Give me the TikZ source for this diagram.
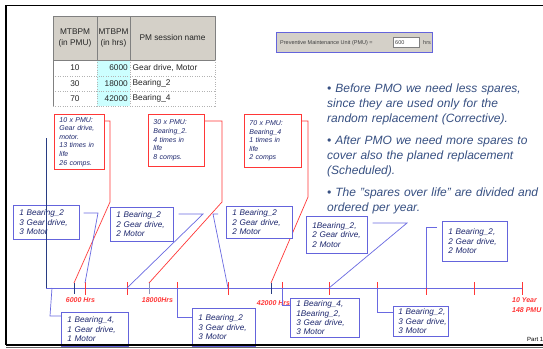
\documentclass[tikz,border=0pt]{standalone}
\usepackage{fontspec}
\setmainfont{Liberation Sans}
\usetikzlibrary{calc}
\definecolor{navy}{RGB}{30,40,110}
\definecolor{boxblue}{RGB}{100,100,220}
\definecolor{lineblue}{RGB}{105,105,225}
\definecolor{redc}{RGB}{255,55,55}
\definecolor{darknavy}{RGB}{40,60,130}
\definecolor{slate}{RGB}{55,80,130}
\definecolor{hdrgray}{RGB}{212,208,200}
\definecolor{cyanc}{RGB}{204,255,255}
\definecolor{tgray}{RGB}{128,128,128}
\begin{document}
\begin{tikzpicture}[x=1pt,y=-1pt,
  bbox/.style={draw=boxblue, fill=white, line width=0.7pt, inner xsep=6pt, inner ysep=0pt, anchor=north west, font=\fontsize{8.2}{9.4}\selectfont\itshape, text=navy, align=left, execute at begin node={\hyphenpenalty=10000\exhyphenpenalty=10000\hbadness=10000\hfuzz=20pt}},
  rbox/.style={draw=redc, fill=white, line width=0.8pt, inner xsep=5pt, inner ysep=0pt, anchor=north west, font=\fontsize{7}{8.6}\selectfont\itshape, text=navy, align=left, execute at begin node={\hyphenpenalty=10000\exhyphenpenalty=10000}},
  redline/.style={draw=redc, line width=0.7pt},
  blueline/.style={draw=lineblue, line width=0.7pt},
  redtick/.style={draw=redc, line width=0.9pt},
  darktick/.style={draw=darknavy, line width=0.9pt},
  hrs/.style={font=\fontsize{7}{10}\selectfont\bfseries\itshape, text=redc, inner sep=0pt},
  bullettext/.style={font=\fontsize{12}{15}\selectfont\itshape, text=slate, anchor=base west, inner sep=0pt, text width=216pt, align=left},
  tbl/.style={font=\fontsize{8.3}{11.5}\selectfont, text=black!85, inner sep=0pt, align=center},
  pmutext/.style={font=\fontsize{5.5}{6}\selectfont, text=black!75, inner sep=0pt, anchor=base west},
]
\useasboundingbox (0,0) rectangle (543,348);
\fill[white] (0,0) rectangle (543,348);

% ---------- table ----------
\fill[hdrgray] (53,16) rectangle (215,60);
\fill[cyanc] (97,60) rectangle (130,106);
\draw[tgray!60, dotted] (53,76) -- (215,76) (53,91) -- (215,91) (53,106) -- (215,106)
  (97,60) -- (97,106) (130,60) -- (130,106) (215,60) -- (215,106);
\draw[tgray, line width=0.5pt] (53,106) -- (53,16) -- (215,16) -- (215,60)
  (53,60) -- (215,60) (97,16) -- (97,60) (130,16) -- (130,60);
\node[tbl] (h1) at (75,38) {MTBPM\\(in PMU)};
\node[tbl] (h2) at (113.5,38) {MTBPM\\(in hrs)};
\node[tbl] (h3) at (172.5,38) {PM session name};
\node[tbl] (r1a) at (75,68) {10};
\node[tbl] (r2a) at (75,83.5) {30};
\node[tbl] (r3a) at (75,98.5) {70};
\node[tbl, anchor=east] (r1b) at (128,68) {6000};
\node[tbl, anchor=east] (r2b) at (128,83.5) {18000};
\node[tbl, anchor=east] (r3b) at (128,98.5) {42000};
\node[tbl, anchor=west] (r1c) at (132.5,68) {Gear drive, Motor};
\node[tbl, anchor=west] (r2c) at (132.5,83.5) {Bearing\_2};
\node[tbl, anchor=west] (r3c) at (132.5,98.5) {Bearing\_4};

% ---------- PMU box ----------
\node[draw=boxblue, fill=hdrgray, line width=0.7pt, anchor=north west, minimum width=156pt, minimum height=20pt, inner sep=0pt] (pmu) at (276,32) {};
\node[draw=tgray, fill=white, line width=0.4pt, anchor=north west, minimum width=26pt, minimum height=10pt, inner sep=0pt] (pmuin) at (393,37) {};
\node[pmutext] (pmul) at (280,44) {Preventive Maintenance Unit (PMU) =};
\node[pmutext] (pmuv) at (395,44) {600};
\node[pmutext] (pmuh) at (423,44) {hrs};

% ---------- bullets ----------
\node[bullettext] (p1) at (327,92.5) {• Before PMO we need less spares,\\since they are used only for the\\random replacement (Corrective).};
\node[bullettext] (p2) at (327,144.5) {• After PMO we need more spares to\\cover also the planed replacement\\(Scheduled).};
\node[bullettext] (p3) at (327,196.5) {• The "spares over life" are divided and\\ordered per year.};

% ---------- timeline ----------
\coordinate (tl0) at (46,288);
\coordinate (tlend) at (522,288);
\coordinate (vtop) at (46,138);
\coordinate (tL1) at (52,288);
\foreach \x in {74,85,127,149,177,228,271,282,329,377,426,474,522}{\coordinate (t\x) at (\x,288);}
\draw[lineblue, line width=0.8pt] (tl0) -- (tlend);
\foreach \x in {85,127,177,228,282,329,377,426,474,522}{\draw[redtick] ([yshift=6pt]t\x) -- ([yshift=-7pt]t\x);}
\draw[darktick] ([yshift=5pt]t74) -- ([yshift=-6pt]t74);
\draw[darktick] ([yshift=5pt]t271) -- ([yshift=-6pt]t271);
\draw[draw=darknavy!55, line width=0.9pt] ([yshift=6pt]t149) -- ([yshift=-6pt]t149);

\node[hrs] (l6) at (80.5,300) {6000 Hrs};
\node[hrs] (l18) at (157.5,300) {18000Hrs};
\node[hrs] (l42) at (273.5,303) {42000 Hrs};
\node[hrs, anchor=north west, align=left] (l10) at (512,297) {10 Year\\148 PMU};

% ---------- red boxes ----------
\node[rbox, text width=40pt, minimum height=55pt] (ra) at (54,114) {10 x PMU:\\Gear drive,\\motor.\\13 times in\\life\\26 comps.};
\node[rbox, text width=46pt, minimum height=52pt] (rb) at (148,114) {30 x PMU:\\Bearing\_2.\\4 times in\\life\\8 comps.};
\node[rbox, text width=47pt, minimum height=53pt] (rc) at (244,114) {70 x PMU:\\Bearing\_4\\1 times in\\life\\2 comps};

\draw[redline] ([yshift=-7pt]ra.north east) -- (110,121) -- (110,202) -- ([yshift=5pt]t74);
\draw[redline] ([yshift=-7pt]rb.north east) -- (222,121) -- (222,202) -- ([yshift=5pt]t149);
\draw[redline] ([yshift=-7pt]rc.north east) -- (308,121) -- (308,197) -- ([yshift=5pt]t271);

% ---------- blue boxes above ----------
\node[bbox, text width=54pt, minimum height=34pt] (b1) at (13,205) {1~Bearing\_2\\3~Gear~drive,\\3~Motor};
\node[bbox, text width=51pt, minimum height=34pt] (b2) at (110,207) {1~Bearing\_2\\2~Gear~drive,\\2~Motor};
\node[bbox, text width=54pt, minimum height=32pt] (b3) at (226,206) {1~Bearing\_2\\2~Gear~drive,\\2~Motor};
\node[bbox, text width=49pt, minimum height=37pt] (b4) at (306,216) {1Bearing\_2,\\2~Gear~drive,\\2~Motor};
\node[bbox, text width=53pt, minimum height=40pt] (b5) at (442,221) {1~Bearing\_2,\\2~Gear~drive,\\2~Motor};

\draw[blueline] ([xshift=4pt,yshift=-8pt]b1.north east) -- (98,213) -- ([yshift=5pt]t85);
\draw[blueline] ([xshift=5pt,yshift=-7pt]b2.north east) -- (203,214) -- (t127);
\draw[blueline] ([xshift=-8pt,yshift=-8pt]b3.north west) -- (213,214) -- (t228);
\draw[blueline] ([xshift=5pt,yshift=-7pt]b4.north east) -- (407,223) -- (t329);
\draw[blueline] ([xshift=-5pt,yshift=-6pt]b5.north west) -- (426,227) -- (t426);

% ---------- blue boxes below ----------
\node[bbox, text width=55pt, minimum height=34pt] (lb1) at (61,312) {1~Bearing\_4,\\1~Gear~drive,\\1~Motor};
\node[bbox, text width=51pt, minimum height=38pt] (lb2) at (192,308) {1~Bearing\_2\\3~Gear~drive,\\3~Motor};
\node[bbox, text width=57pt, minimum height=39pt] (lb3) at (290,298) {1~Bearing\_4,\\1Bearing\_2,\\3~Gear~drive,\\3~Motor};
\node[bbox, inner xsep=5pt, text width=45pt, minimum height=30pt] (lb4) at (393,306) {\mbox{1~Bearing\_2,}\\\mbox{3~Gear~drive,}\\3~Motor};

\draw[blueline] (tL1) -- (50,316) -- ([yshift=-4pt]lb1.north west);
\draw[blueline] (t177) -- (177,317) -- ([yshift=-9pt]lb2.north west);
\draw[blueline] (t282) -- (282,305) -- ([yshift=-7pt]lb3.north west);
\draw[blueline] (t377) -- (377,312) -- ([yshift=-6pt]lb4.north west);

% navy vertical line
\draw[darknavy, line width=0.8pt] (vtop) -- (tl0);

% ---------- frame ----------
\node[font=\fontsize{6}{7}\selectfont, inner sep=0pt, anchor=base west] (part) at (527,341.5) {Part 1};
\draw[black, line width=1.2pt] (543,5.5) -- (6,5.5) -- (6,344.5);
\draw[black, line width=2pt] (6,344.5) -- (543,344.5);
\draw[black!60, line width=0.6pt] (6,347.6) -- (543,347.6);
\end{tikzpicture}
\end{document}
